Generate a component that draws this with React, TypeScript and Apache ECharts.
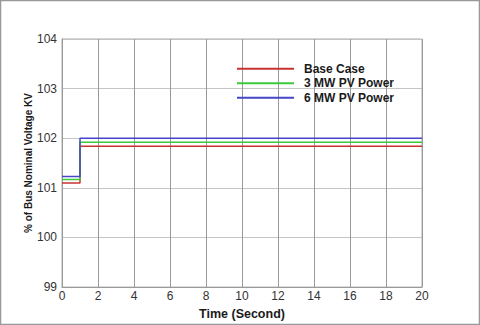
import React, { useEffect, useRef } from "react";
import * as echarts from "echarts";

const seriesNames = ["Base Case", "3 MW PV Power", "6 MW PV Power"];
const stepTimes = [0, 1, 20];
const baseCase = [101.1, 101.84, 101.84];
const pv3 = [101.17, 101.92, 101.92];
const pv6 = [101.23, 102.0, 102.0];
const colors = ["#c83232", "#3cc83c", "#4646c8"];

export default function App() {
  const ref = useRef<HTMLDivElement>(null);
  useEffect(() => {
    if (!ref.current) return;
    const chart = echarts.init(ref.current, null, { renderer: "svg" });
    const values = [baseCase, pv3, pv6];
    const font = "Liberation Sans, Arial, sans-serif";
    chart.setOption({
      animation: false,
      backgroundColor: "#ffffff",
      grid: { left: 62, right: 58, top: 39, bottom: 36, show: true, borderColor: "#aaaaaa", borderWidth: 1 },
      legend: {
        orient: "vertical",
        left: 232,
        top: 57,
        icon: "rect",
        itemWidth: 57,
        itemHeight: 2,
        itemGap: 1,
        data: seriesNames,
        textStyle: { fontFamily: font, fontSize: 12, fontWeight: "bold", color: "#1a1a1a", padding: [0, 0, 0, 5], lineHeight: 13.5 },
      },
      xAxis: {
        type: "value",
        min: 0,
        max: 20,
        interval: 2,
        name: "Time (Second)",
        nameLocation: "middle",
        nameGap: 18,
        nameTextStyle: { fontFamily: font, fontSize: 12.5, fontWeight: "bold", color: "#1a1a1a" },
        axisLine: { lineStyle: { color: "#999" } },
        axisTick: { show: false },
        axisLabel: { fontFamily: font, fontSize: 12, color: "#333", margin: 3 },
        splitLine: { lineStyle: { color: "#9a9a9a", width: 1 } },
      },
      yAxis: {
        type: "value",
        min: 99,
        max: 104,
        interval: 1,
        name: "% of Bus Nominal Voltage KV",
        nameLocation: "middle",
        nameGap: 29,
        nameMoveOverlap: false,
        nameTextStyle: { fontFamily: font, fontSize: 10, fontWeight: "bold", color: "#1a1a1a" },
        axisLine: { show: true, lineStyle: { color: "#999" } },
        axisTick: { show: false },
        axisLabel: { fontFamily: font, fontSize: 12, color: "#333", margin: 5 },
        splitLine: { lineStyle: { color: "#c4c4c4", width: 1 } },
      },
      series: seriesNames.map((name, i) => ({
        name,
        type: "line",
        step: "end",
        showSymbol: false,
        symbol: "none",
        color: colors[i],
        lineStyle: { width: 1.5, color: colors[i] },
        data: stepTimes.map((t, j) => [t, values[i][j]]),
      })),
      graphic: [
        {
          type: "rect",
          shape: { x: 0.5, y: 0.5, width: 479, height: 324 },
          style: { fill: "none", stroke: "#999", lineWidth: 1.5 },
          silent: true,
        },
      ],
    });
    return () => chart.dispose();
  }, []);
  return <div ref={ref} style={{ position: "absolute", left: 0, top: 0, width: 480, height: 325 }} />;
}
